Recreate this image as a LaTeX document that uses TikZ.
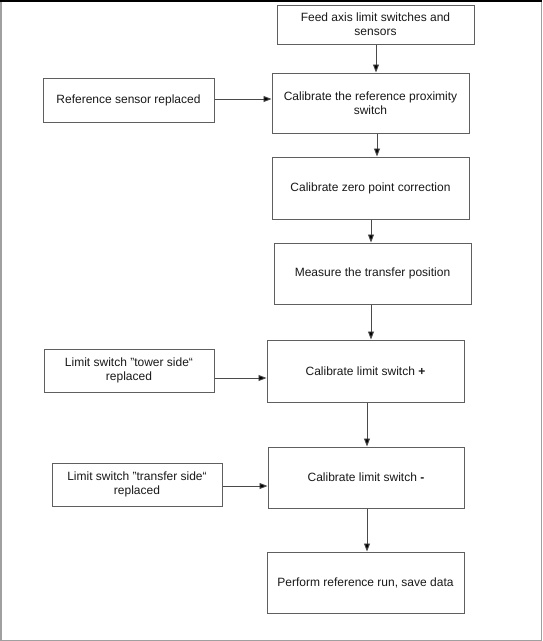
\documentclass[tikz,border=0pt]{standalone}
\usepackage{fontspec}
\setmainfont{Liberation Sans}
\usetikzlibrary{arrows.meta}
\definecolor{boxgray}{HTML}{5F5F5F}
\definecolor{linegray}{HTML}{4A4A4A}
\definecolor{framegray}{HTML}{A0A0A0}
\begin{document}
\begin{tikzpicture}[x=1pt,y=-1pt,
  box/.style={draw=boxgray, line width=1pt, fill=white, inner sep=2pt, align=center,
    font=\fontsize{12}{14}\selectfont, text=black!90},
  arr/.style={draw=linegray, line width=0.9pt, -{Triangle[length=8pt,width=6pt,fill=black]}}
  ]
\useasboundingbox (0,0) rectangle (542,641);
\fill[white] (0,0) rectangle (542,641);
% frame
\draw[framegray, line width=1.5pt] (0.75,0) -- (0.75,640.25) -- (541.25,640.25) -- (541.25,0);
\draw[black, line width=1.5pt] (0,0.75) -- (542,0.75);

\node[box, minimum width=197pt, minimum height=39pt] (b1) at (375.5,24.5) {Feed axis limit switches and\\sensors};
\node[box, minimum width=197pt, minimum height=60pt] (b2) at (370.5,103) {Calibrate the reference proximity\\switch};
\node[box, minimum width=171pt, minimum height=44pt] (b3) at (128.5,100) {Reference sensor replaced};
\node[box, minimum width=197pt, minimum height=62pt] (b4) at (370.5,188) {Calibrate zero point correction};
\node[box, minimum width=197pt, minimum height=61pt] (b5) at (372.5,273.5) {Measure the transfer position};
\node[box, minimum width=197pt, minimum height=62pt] (b6) at (365.5,371) {Calibrate limit switch \textbf{+}};
\node[box, minimum width=170pt, minimum height=43pt] (b7) at (129,370.5) {Limit switch "tower side“\\replaced};
\node[box, minimum width=196pt, minimum height=61pt] (b8) at (366,477.5) {Calibrate limit switch \textbf{-}};
\node[box, minimum width=170pt, minimum height=43pt] (b9) at (137,484.5) {Limit switch "transfer side“\\replaced};
\node[box, minimum width=197pt, minimum height=61pt] (b10) at (365.5,582.5) {Perform reference run, save data};

\draw[arr] (b1.south -| 376,0) -- (b2.north -| 376,0);
\draw[arr] (b2.south -| 377,0) -- (b4.north -| 377,0);
\draw[arr] (b4.south -| 371,0) -- (b5.north -| 371,0);
\draw[arr] (b5.south -| 371,0) -- (b6.north -| 371,0);
\draw[arr] (b6.south -| 367,0) -- (b8.north -| 367,0);
\draw[arr] (b8.south -| 367,0) -- (b10.north -| 367,0);

\draw[arr] (b3.east |- 0,99) -- (b2.west |- 0,99);
\draw[arr] (b7.east |- 0,378) -- (b6.west |- 0,378);
\draw[arr] (b9.east |- 0,486) -- (b8.west |- 0,486);
\end{tikzpicture}
\end{document}
